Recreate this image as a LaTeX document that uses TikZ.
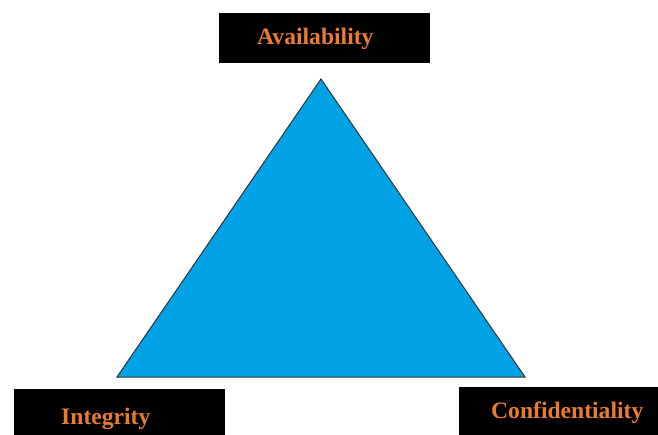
\documentclass[tikz,border=0pt]{standalone}
\usepackage{fontspec}
\setmainfont{Liberation Serif}
\definecolor{triblue}{RGB}{0,162,230}
\definecolor{labelorange}{RGB}{234,124,48}
\begin{document}
\begin{tikzpicture}[x=1pt,y=-1pt,
  blackbox/.style={fill=black,draw=none},
  lbl/.style={anchor=base west,inner sep=0pt,text=labelorange,font=\fontsize{23.6}{28}\selectfont\bfseries}]
\useasboundingbox (0,0) rectangle (658,435);
\fill[white] (0,0) rectangle (658,435);
% triangle
\coordinate (top) at (321,79);
\coordinate (bl) at (117,377);
\coordinate (br) at (525,377);
\filldraw[fill=triblue,draw=black!80,line width=1pt] (top) -- (br) -- (bl) -- cycle;
% boxes
\fill[blackbox] (219,13) rectangle (430,63);
\fill[blackbox] (14,389) rectangle (225,435);
\fill[blackbox] (459,387) rectangle (658,435);
\node[lbl] (avail) at (257,45) {Availability};
\node[lbl] (integ) at (61,424) {Integrity};
\node[lbl] (conf) at (491,418) {Confidentiality};
\end{tikzpicture}
\end{document}
